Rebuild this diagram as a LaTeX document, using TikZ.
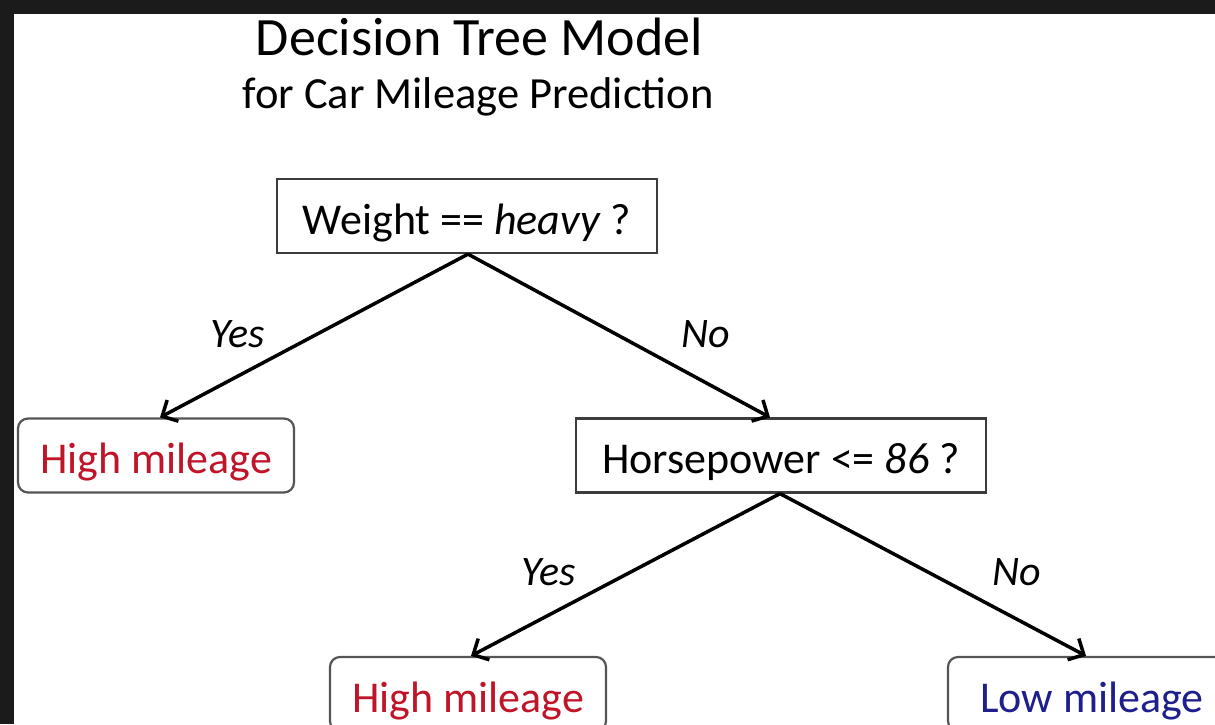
\documentclass[tikz,border=0pt]{standalone}
\usepackage{fontspec}
\setmainfont{Carlito}
\usetikzlibrary{arrows.meta}
\definecolor{framedark}{HTML}{1B1B1B}
\definecolor{leafred}{RGB}{192,20,40}
\definecolor{leafblue}{RGB}{30,30,140}
\definecolor{boxgray}{HTML}{3C3C3C}
\definecolor{leafgray}{HTML}{555555}
\begin{document}
\begin{tikzpicture}[x=1pt,y=-1pt,
  decision/.style={draw=boxgray, line width=2.2pt, fill=white, inner sep=0pt,
    minimum height=74pt, text height=36pt, text depth=0pt,
    font=\fontsize{44}{50}\selectfont},
  leaf/.style={decision, rounded corners=10pt, draw=leafgray},
  edge/.style={line width=3.5pt, -{Straight Barb[length=12pt,width=24pt]}},
  lbl/.style={anchor=base, inner sep=0pt, font=\fontsize{42}{48}\selectfont\itshape},
  heading/.style={anchor=base, inner sep=0pt}
]
\clip (0,0) rectangle (1215,724);
\fill[white] (0,0) rectangle (1215,724);
\fill[framedark] (0,0) rectangle (1215,14);
\fill[framedark] (0,0) rectangle (14,724);

\node[heading, font=\fontsize{54}{60}\selectfont] (title) at (479.5,55) {Decision Tree Model};
\node[heading, font=\fontsize{44.5}{50}\selectfont] (subtitle) at (478,108) {for Car Mileage Prediction};

\node[decision, minimum width=380pt] (root) at (467,216) {Weight == \textit{heavy} ?};
\node[leaf, minimum width=276pt, text=leafred] (leafA) at (156,455.5) {High mileage};
\node[decision, minimum width=410pt] (hp) at (781,455.5) {Horsepower <= \textit{86} ?};
\node[leaf, minimum width=276pt, text=leafred] (leafB) at (468,694) {High mileage};
\node[leaf, minimum width=288pt, text=leafblue] (leafC) at (1092,694) {Low mileage};

\draw[edge] ([xshift=1pt]root.south) -- ([xshift=4pt]leafA.north);
\draw[edge] ([xshift=1pt]root.south) -- ([xshift=-11pt]hp.north);
\draw[edge] ([xshift=-1pt]hp.south) -- ([xshift=3pt]leafB.north);
\draw[edge] ([xshift=-1pt]hp.south) -- ([xshift=-6pt]leafC.north);

\node[lbl] (yesA) at (237.5,347) {Yes};
\node[lbl] (noA) at (706,347) {No};
\node[lbl] (yesB) at (548.5,585) {Yes};
\node[lbl] (noB) at (1016.5,585) {No};
\end{tikzpicture}
\end{document}
